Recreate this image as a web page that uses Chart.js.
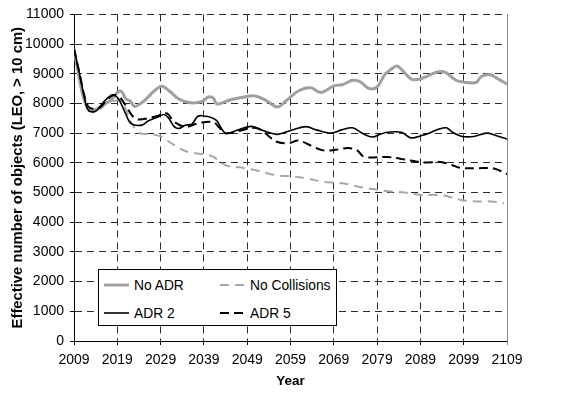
<!DOCTYPE html>
<html>
<head>
<meta charset="utf-8">
<script src="https://cdn.jsdelivr.net/npm/chart.js@4/dist/chart.umd.min.js"></script>
<style>
  html, body { margin: 0; padding: 0; background: #fff; }
  #wrap { position: relative; width: 561px; height: 396px; font-family: "Liberation Sans", Arial, sans-serif; }
  #legend {
    position: absolute; left: 98px; top: 269px; width: 239px; height: 57px;
    border: 1px solid #000; background: #fff; box-sizing: border-box;
    padding: 1px 0 0 5px;
  }
  .row { display: flex; height: 28px; align-items: center; }
  .cell { display: flex; align-items: center; width: 118px; font-size: 13.8px; color: #000; }
  .cell svg { width: 25px; height: 6px; margin-right: 5px; flex: none; }
</style>
</head>
<body>
<div id="wrap">
  <canvas id="c" width="561" height="396"></canvas>
  <div id="legend"></div>
</div>
<script>
// Effective number of LEO objects (> 10 cm) under different removal scenarios
const xTicks = [2009, 2019, 2029, 2039, 2049, 2059, 2069, 2079, 2089, 2099, 2109];

const noAdrYears = [2009, 2010, 2011, 2012, 2013, 2014, 2015, 2016, 2017.5, 2019, 2020, 2021, 2022, 2023, 2024.7, 2026, 2027.5, 2029.3, 2031, 2033.3, 2035.5, 2037.6, 2039, 2040, 2041.2, 2042, 2044.8, 2047.7, 2050.6, 2053.5, 2056, 2058, 2060.8, 2063.6, 2066.1, 2069, 2071.1, 2073.3, 2075.1, 2077.2, 2079, 2080.8, 2082.2, 2083.6, 2085, 2087.1, 2089.4, 2091.5, 2093.3, 2095, 2097.1, 2099.4, 2101.9, 2103, 2105.1, 2106.9, 2109];
const noAdrValues = [9850, 9000, 8300, 7880, 7780, 7800, 7880, 7990, 8100, 8370, 8400, 8150, 8080, 7900, 8030, 8200, 8420, 8580, 8420, 8140, 8030, 8030, 8100, 8220, 8180, 7980, 8110, 8200, 8260, 8090, 7880, 8090, 8420, 8530, 8370, 8590, 8640, 8780, 8730, 8500, 8560, 8980, 9150, 9260, 9090, 8810, 8850, 8980, 9070, 9030, 8790, 8710, 8710, 8900, 8970, 8830, 8650];

const noCollYears = [2009, 2010.3, 2011.4, 2012.3, 2013.5, 2015, 2016.5, 2018, 2019.6, 2021, 2022, 2024, 2026.8, 2028.9, 2031.8, 2034.7, 2037, 2039, 2041.2, 2044, 2047.7, 2051, 2055.7, 2059, 2062.9, 2066.5, 2069.4, 2072.3, 2074.9, 2076.9, 2079, 2082.6, 2085.4, 2089, 2092.6, 2095.4, 2098.3, 2101.9, 2105.4, 2108.3];
const noCollValues = [9830, 8980, 8250, 7850, 7700, 7800, 8000, 8080, 8090, 7800, 7420, 7020, 6960, 6900, 6630, 6400, 6320, 6290, 6200, 5920, 5840, 5750, 5580, 5550, 5470, 5360, 5330, 5280, 5190, 5140, 5090, 5030, 5000, 4920, 4920, 4870, 4750, 4700, 4700, 4640];

const adr2Years = [2009, 2010.3, 2011.4, 2012.1, 2013, 2014.3, 2016.1, 2017.9, 2019, 2019.6, 2021, 2022.2, 2024.7, 2026, 2028.3, 2029.7, 2030.8, 2032.2, 2033.3, 2034.7, 2036.2, 2037.6, 2039, 2040.5, 2041.9, 2044, 2046.9, 2050, 2053, 2056, 2059.4, 2062.6, 2065, 2068.3, 2070.8, 2073.3, 2075.8, 2077.9, 2080, 2081.4, 2084.6, 2086.8, 2089.3, 2091.5, 2093.3, 2095, 2096.4, 2098.6, 2101.4, 2104.3, 2106.4, 2109];
const adr2Values = [9830, 8980, 8200, 7810, 7720, 7770, 8090, 8290, 8200, 8080, 7630, 7320, 7270, 7400, 7540, 7630, 7520, 7210, 7160, 7270, 7300, 7570, 7580, 7540, 7430, 7000, 7110, 7230, 7070, 6960, 7110, 7220, 7110, 7000, 7110, 7180, 6980, 6870, 6980, 7030, 7030, 6840, 6920, 7030, 7140, 7180, 7030, 6890, 6890, 7000, 6920, 6800];

const adr5Years = [2009, 2010.3, 2011.4, 2012.3, 2013.3, 2015, 2016.5, 2018, 2019.6, 2021, 2022.5, 2024, 2026, 2028.3, 2030.5, 2032, 2034.7, 2036.9, 2039, 2041.2, 2042.5, 2044, 2046.9, 2050.6, 2052.4, 2054.2, 2056, 2058.6, 2060.8, 2063.6, 2066.5, 2069.4, 2072.3, 2074.4, 2075.8, 2077.9, 2081.4, 2084.3, 2087.1, 2090, 2093.6, 2096.4, 2098.2, 2102.1, 2105.7, 2107.1, 2109];
const adr5Values = [9830, 9000, 8250, 7900, 7820, 7870, 8100, 8280, 8200, 7920, 7580, 7460, 7500, 7580, 7660, 7400, 7210, 7300, 7370, 7370, 7200, 7000, 7070, 7180, 7090, 6870, 6700, 6660, 6750, 6590, 6420, 6440, 6500, 6420, 6220, 6180, 6200, 6140, 6070, 6010, 6030, 5920, 5830, 5820, 5820, 5750, 5620];

const seriesNames = ['No ADR', 'No Collisions', 'ADR 2', 'ADR 5'];

const FONT = '"Liberation Sans", Arial, sans-serif';
const pts = (xs, ys) => xs.map((x, i) => ({ x: x, y: ys[i] }));

const styles = [
  { color: '#a0a0a0', width: 3, dash: [] },
  { color: '#a8a8a8', width: 2, dash: [9, 6] },
  { color: '#000000', width: 1.6, dash: [] },
  { color: '#000000', width: 2, dash: [9, 5] }
];
const seriesData = [
  pts(noAdrYears, noAdrValues),
  pts(noCollYears, noCollValues),
  pts(adr2Years, adr2Values),
  pts(adr5Years, adr5Values)
];

// gray series are drawn underneath the black ones
const datasets = seriesNames.map((name, i) => ({
  label: name,
  data: seriesData[i],
  borderColor: styles[i].color,
  borderWidth: styles[i].width,
  borderDash: styles[i].dash,
  pointRadius: 0,
  tension: 0.35,
  fill: false,
  order: i < 2 ? 2 : 1
}));

// solid gray frame line on the right edge of the plot
const rightFrame = {
  id: 'rightFrame',
  afterDraw(chart) {
    const { ctx, chartArea, scales } = chart;
    const x = Math.round(scales.x.getPixelForValue(scales.x.max)) + 0.5;
    ctx.save();
    ctx.strokeStyle = '#8c8c8c';
    ctx.lineWidth = 1;
    ctx.beginPath();
    ctx.moveTo(x, chartArea.top);
    ctx.lineTo(x, chartArea.bottom + 4);
    ctx.stroke();
    ctx.restore();
  }
};

new Chart(document.getElementById('c'), {
  type: 'line',
  data: { datasets },
  options: {
    responsive: false,
    animation: false,
    layout: { padding: { top: 14, right: 54, left: 0, bottom: 0 } },
    plugins: { legend: { display: false }, tooltip: { enabled: false } },
    scales: {
      x: {
        type: 'linear',
        min: 2009,
        max: 2109,
        afterBuildTicks: s => { s.ticks = xTicks.map(v => ({ value: v })); },
        afterFit: s => { s.height = 55; },
        ticks: {
          color: '#000',
          font: { family: FONT, size: 14 },
          padding: 7,
          maxRotation: 0,
          autoSkip: false,
          callback: v => String(v)
        },
        grid: { color: '#2a2a2a', lineWidth: 1, tickLength: 4, tickColor: '#000' },
        border: { display: true, color: '#000', width: 1, dash: [7, 5] },
        title: {
          display: true,
          text: 'Year',
          color: '#000',
          font: { family: FONT, size: 13.5, weight: 'bold' },
          padding: { top: 0, bottom: 7 }
        }
      },
      y: {
        min: 0,
        max: 11000,
        afterFit: s => { s.width = 74; },
        ticks: {
          stepSize: 1000,
          color: '#000',
          font: { family: FONT, size: 14 },
          padding: 6,
          callback: v => String(v)
        },
        grid: { color: '#2a2a2a', lineWidth: 1, tickLength: 4, tickColor: '#000' },
        border: { display: true, color: '#000', width: 1, dash: [7, 5] },
        title: {
          display: true,
          text: 'Effective number of objects (LEO, > 10 cm)',
          color: '#000',
          font: { family: FONT, size: 14.8, weight: 'bold' },
          padding: { top: 9, bottom: 0 }
        }
      }
    }
  },
  plugins: [rightFrame]
});

// boxed legend inside the plot, two columns
const legendOrder = [[0, 1], [2, 3]];
const legendEl = document.getElementById('legend');
legendOrder.forEach(rowIdx => {
  const row = document.createElement('div');
  row.className = 'row';
  rowIdx.forEach(i => {
    const st = styles[i];
    const cell = document.createElement('div');
    cell.className = 'cell';
    cell.innerHTML =
      '<svg viewBox="0 0 25 6"><line x1="0" y1="3" x2="25" y2="3" stroke="' + st.color +
      '" stroke-width="' + st.width + '"' + (st.dash.length ? ' stroke-dasharray="' + st.dash.join(',') + '"' : '') +
      '/></svg><span>' + seriesNames[i] + '</span>';
    row.appendChild(cell);
  });
  legendEl.appendChild(row);
});
</script>
</body>
</html>
